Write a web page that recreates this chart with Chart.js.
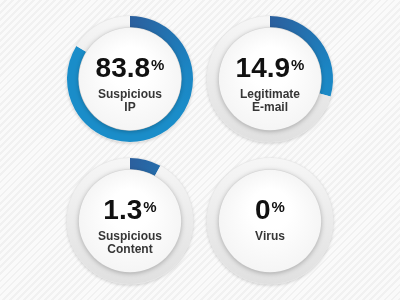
<!DOCTYPE html>
<html>
<head>
<meta charset="utf-8">
<script src="https://cdn.jsdelivr.net/npm/chart.js@4.4.1/dist/chart.umd.min.js"></script>
<style>
  html, body { margin: 0; padding: 0; }
  body {
    width: 400px; height: 300px; overflow: hidden; position: relative;
    background: repeating-linear-gradient(135deg, #fafafa 0px, #fafafa 3px, #f1f1f1 3px, #f1f1f1 5px);
  }
  canvas { position: absolute; }
</style>
</head>
<body>
<canvas id="c0" width="140" height="140" style="left:60px;top:9px"></canvas>
<canvas id="c1" width="140" height="140" style="left:200px;top:9px"></canvas>
<canvas id="c2" width="140" height="140" style="left:60px;top:151px"></canvas>
<canvas id="c3" width="140" height="140" style="left:200px;top:151px"></canvas>
<script>
// Shown percentages and their captions
const valueLabels = ['83.8', '14.9', '1.3', '0'];
const captions = [['Suspicious', 'IP'], ['Legitimate', 'E-mail'], ['Suspicious', 'Content'], ['Virus']];
// How much of each ring is filled in the picture (out of 100)
const arcFill = [83.8, 29.5, 8, 0];

const FONT = '"Liberation Sans", Arial, sans-serif';

const ringPlugin = {
    id: 'ring',
    beforeDraw(chart) {
        const arc = chart.getDatasetMeta(0).data[0];
        if (!arc) return;
        const ctx = chart.ctx;
        ctx.save();
        ctx.beginPath();
        ctx.arc(arc.x, arc.y, arc.outerRadius + 0.5, 0, Math.PI * 2);
        ctx.fillStyle = '#e8e8e8';
        ctx.shadowColor = 'rgba(0,0,0,0.16)';
        ctx.shadowBlur = 3;
        ctx.shadowOffsetY = 1;
        ctx.fill();
        ctx.restore();
    },
    afterDraw(chart) {
        const arc = chart.getDatasetMeta(0).data[0];
        if (!arc) return;
        const ctx = chart.ctx;
        const i = chart.options.plugins.ring.index;
        const x = arc.x, y = arc.y;

        // raised inner disc
        ctx.save();
        ctx.beginPath();
        ctx.arc(x, y, arc.innerRadius - 0.5, 0, Math.PI * 2);
        const g = ctx.createRadialGradient(x, y - 12, 20, x, y, arc.innerRadius);
        g.addColorStop(0, '#ffffff');
        g.addColorStop(1, '#f5f5f5');
        ctx.fillStyle = g;
        ctx.shadowColor = 'rgba(0,0,0,0.28)';
        ctx.shadowBlur = 5;
        ctx.shadowOffsetY = 1;
        ctx.fill();
        ctx.restore();

        // value + percent sign
        ctx.save();
        ctx.textBaseline = 'alphabetic';
        ctx.font = 'bold 28px ' + FONT;
        const numW = ctx.measureText(valueLabels[i]).width;
        ctx.font = 'bold 15px ' + FONT;
        const pctW = ctx.measureText('%').width;
        const left = x - (numW + pctW + 1) / 2;
        const base = y - 2;
        ctx.fillStyle = '#111111';
        ctx.textAlign = 'left';
        ctx.font = 'bold 28px ' + FONT;
        ctx.fillText(valueLabels[i], left, base);
        ctx.font = 'bold 15px ' + FONT;
        ctx.fillText('%', left + numW + 1, base - 7);

        // caption
        ctx.fillStyle = '#363636';
        ctx.textAlign = 'center';
        ctx.font = 'bold 12px ' + FONT;
        captions[i].forEach((line, k) => {
            ctx.fillText(line, x, y + 18.5 + k * 13.5);
        });
        ctx.restore();
    }
};

function segColor(context) {
    const chart = context.chart;
    const area = chart.chartArea;
    if (!area) return context.dataIndex === 0 ? '#1a8cc8' : '#e8e8e8';
    const ctx = chart.ctx;
    const cx = (area.left + area.right) / 2;
    const cy = (area.top + area.bottom) / 2;
    if (context.dataIndex === 0) {
        const g = ctx.createConicGradient(-Math.PI / 2, cx, cy);
        g.addColorStop(0, '#2b5f9d');
        g.addColorStop(0.22, '#1b85c3');
        g.addColorStop(0.35, '#1a8dc9');
        g.addColorStop(1, '#1a8dc9');
        return g;
    }
    const g = ctx.createLinearGradient(0, area.top, 0, area.bottom);
    g.addColorStop(0, '#f6f6f6');
    g.addColorStop(1, '#e0e0e0');
    return g;
}

arcFill.forEach((v, i) => {
    new Chart(document.getElementById('c' + i), {
        type: 'doughnut',
        data: {
            labels: ['filled', 'rest'],
            datasets: [{
                data: [v, 100 - v],
                backgroundColor: segColor,
                borderWidth: 0,
                hoverOffset: 0
            }]
        },
        options: {
            responsive: false,
            devicePixelRatio: 1,
            animation: false,
            cutout: '82%',
            layout: { padding: 7 },
            events: [],
            plugins: {
                legend: { display: false },
                tooltip: { enabled: false },
                ring: { index: i }
            }
        },
        plugins: [ringPlugin]
    });
});
</script>
</body>
</html>
